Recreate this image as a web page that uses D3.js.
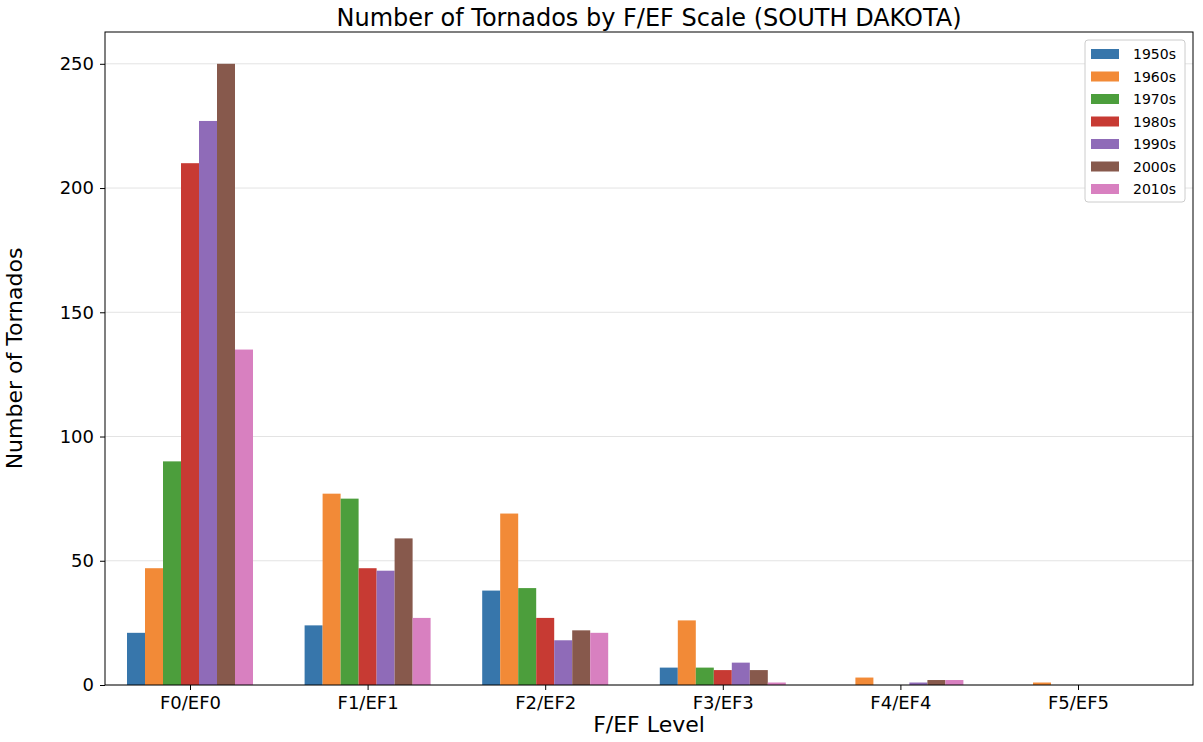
<!DOCTYPE html><html><head><meta charset="utf-8"><script src="https://cdn.jsdelivr.net/npm/d3@7"></script>
<style>body{margin:0;background:#fff}svg{font-family:"DejaVu Sans",sans-serif}</style></head><body><svg width="1203" height="742"></svg><script>
const categories=["F0/EF0","F1/EF1","F2/EF2","F3/EF3","F4/EF4","F5/EF5"];
const decades=["1950s","1960s","1970s","1980s","1990s","2000s","2010s"];
const colors=["#3776ab","#f28a37","#4c9e3c","#c73a33","#8f6bb8","#87594c","#d880c0"];
const v1950s=[21,24,38,7,0,0];
const v1960s=[47,77,69,26,3,1];
const v1970s=[90,75,39,7,0,0];
const v1980s=[210,47,27,6,0,0];
const v1990s=[227,46,18,9,1,0];
const v2000s=[250,59,22,6,2,0];
const v2010s=[135,27,21,1,2,0];
const series=[v1950s,v1960s,v1970s,v1980s,v1990s,v2000s,v2010s];
const yTicks=[0,50,100,150,200,250];
const L=105,R=1193,T=32,B=685;
const svg=d3.select("svg");
const y=d3.scaleLinear().domain([0,262.8]).range([B,T]);
const x=d3.scaleLinear().domain([0,5]).range([190,1078]);
const bw=18;
svg.append("g").selectAll("line").data(yTicks).join("line").attr("x1",L).attr("x2",R).attr("y1",d=>y(d)).attr("y2",d=>y(d)).attr("stroke","#e3e3e3");
series.forEach((s,j)=>{svg.append("g").selectAll("rect").data(s).join("rect")
 .attr("x",(d,i)=>x(i)+(j-3.5)*bw).attr("width",bw).attr("y",d=>y(d)).attr("height",d=>B-y(d)).attr("fill",colors[j]);});
svg.append("rect").attr("x",L).attr("y",T).attr("width",R-L).attr("height",B-T).attr("fill","none").attr("stroke","#000").attr("stroke-width",1);
const ya=svg.append("g").attr("transform",`translate(${L},0)`).call(d3.axisLeft(y).tickValues(yTicks).tickSize(5).tickPadding(6));
ya.select(".domain").remove();ya.selectAll("text").attr("font-size",18).attr("font-family","DejaVu Sans");
const xa=svg.append("g").attr("transform",`translate(0,${B})`).call(d3.axisBottom(x).tickValues(d3.range(6)).tickFormat(i=>categories[i]).tickSize(5).tickPadding(6));
xa.select(".domain").remove();xa.selectAll("text").attr("font-size",18).attr("font-family","DejaVu Sans");
svg.append("text").attr("x",(L+R)/2).attr("y",26).attr("text-anchor","middle").attr("font-size",24).text("Number of Tornados by F/EF Scale (SOUTH DAKOTA)");
svg.append("text").attr("x",(L+R)/2).attr("y",732).attr("text-anchor","middle").attr("font-size",22).text("F/EF Level");
svg.append("text").attr("transform",`translate(22,${(T+B)/2}) rotate(-90)`).attr("text-anchor","middle").attr("font-size",22).text("Number of Tornados");
const lg=svg.append("g").attr("transform","translate(1085,40)");
lg.append("rect").attr("width",100).attr("height",162).attr("fill","#fff").attr("stroke","#ccc").attr("rx",3);
decades.forEach((d,i)=>{const g=lg.append("g").attr("transform",`translate(6,${9+i*22.5})`);
 g.append("rect").attr("width",28).attr("height",10).attr("fill",colors[i]);
 g.append("text").attr("x",42).attr("y",10).attr("font-size",14).text(d);});
</script></body></html>
